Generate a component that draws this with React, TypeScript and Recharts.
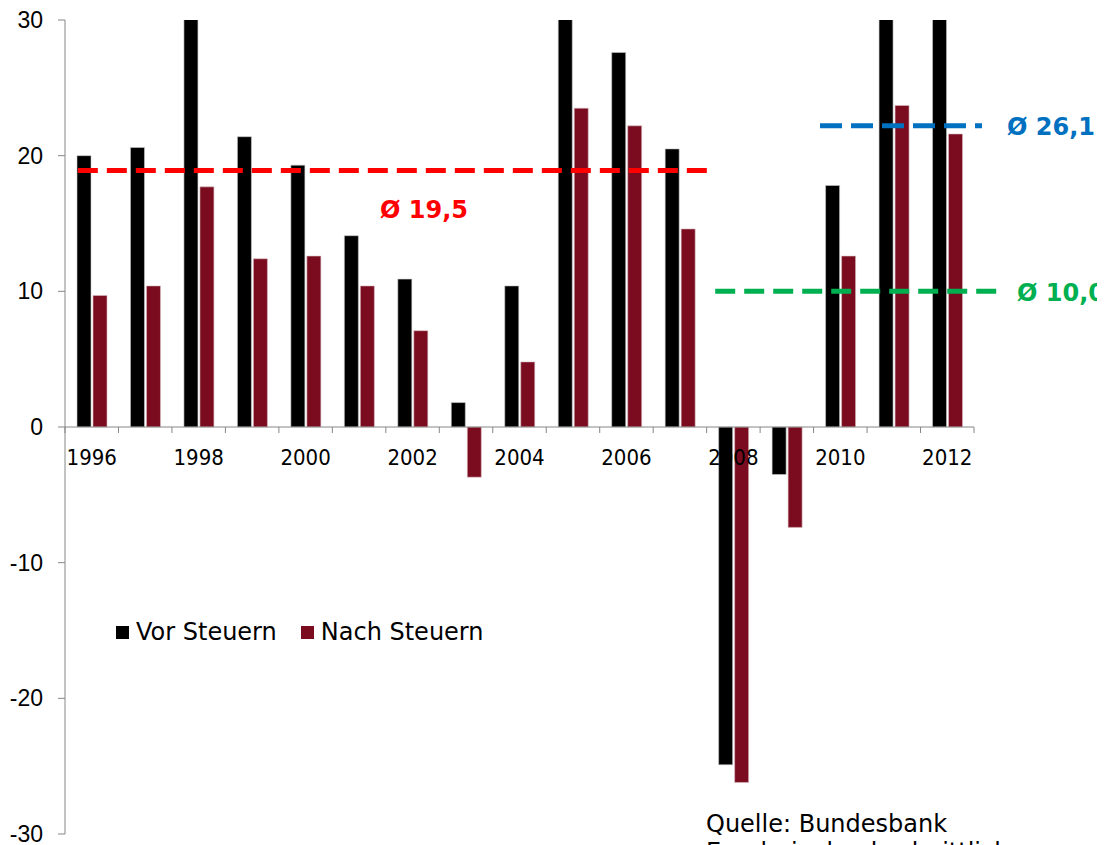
import React from 'react';
import { BarChart, Bar, XAxis, YAxis, ReferenceLine } from 'recharts';

// ---- data ----
const years = ['1996','1997','1998','1999','2000','2001','2002','2003','2004','2005','2006','2007','2008','2009','2010','2011','2012'];
const vorSteuern = [20.0, 20.6, 31.5, 21.4, 19.3, 14.1, 10.9, 1.8, 10.4, 32.0, 27.6, 20.5, -24.9, -3.5, 17.8, 33.0, 31.0];
const nachSteuern = [9.7, 10.4, 17.7, 12.4, 12.6, 10.4, 7.1, -3.7, 4.8, 23.5, 22.2, 14.6, -26.2, -7.4, 12.6, 23.7, 21.6];
const yTicks = [-30, -20, -10, 0, 10, 20, 30];
const seriesNames = ['Vor Steuern', 'Nach Steuern'];

// average lines: [start, end] in category positions (0..17), y value, label
const avgRed = { x: [0.24, 12.16], y: 18.9, label: 'Ø 19,5' };
const avgGreen = { x: [12.16, 17.43], y: 10.0, label: 'Ø 10,0' };
const avgBlue = { x: [14.12, 17.15], y: 22.2, label: 'Ø 26,1' };
const sourceLines = ['Quelle: Bundesbank', 'Ergebnis durchschnittlich'];

const data = years.map((y, i) => ({ year: y, vor: vorSteuern[i], nach: nachSteuern[i] }));

// ---- layout ----
const W = 1097;
const H = 837;
const M = { top: 12, right: 131, bottom: 0, left: 0 };
const YW = 57;
const XH = 11;
const Y_MIN = -30;
const Y_MAX = 30;
const PLOT_W = W - M.left - M.right - YW;
const PLOT_H = H - M.top - M.bottom - XH;
const ZERO_Y = M.top + (PLOT_H * (Y_MAX - 0)) / (Y_MAX - Y_MIN);
const BW = PLOT_W / years.length;

const AXIS = '#868686';
const BLACK = '#000000';
const DARKRED = '#7B0C1F';
const RED = '#FF0000';
const BLUE = '#0070C0';
const GREEN = '#00B050';
const SANS = '"DejaVu Sans", Verdana, sans-serif';
const FS = 24;

function XTick(props: any) {
  const { x, payload, index } = props;
  const left = x - BW / 2;
  return (
    <g>
      <line x1={left} x2={left} y1={ZERO_Y} y2={ZERO_Y + 6} stroke={AXIS} strokeWidth={1} />
      {index === years.length - 1 && (
        <line x1={x + BW / 2} x2={x + BW / 2} y1={ZERO_Y} y2={ZERO_Y + 6} stroke={AXIS} strokeWidth={1} />
      )}
      {index % 2 === 0 && (
        <text
          x={x}
          y={ZERO_Y + 38}
          textAnchor="middle"
          fill="#000"
          style={{ fontFamily: '"DejaVu Sans Condensed", "DejaVu Sans", sans-serif', fontSize: 22 }}
        >
          {payload.value}
        </text>
      )}
    </g>
  );
}

// partial horizontal dashed segment, drawn from fractions of the plot width
const partialLine = (range: number[], color: string, dash: string) => (p: any) => {
  const x1 = Number(p.x1);
  const x2 = Number(p.x2);
  const span = x2 - x1;
  const n = years.length;
  return (
    <line
      x1={x1 + (span * range[0]) / n}
      x2={x1 + (span * range[1]) / n}
      y1={p.y1}
      y2={p.y2}
      stroke={color}
      strokeWidth={5}
      strokeDasharray={dash}
    />
  );
};

const labelStyle = (color: string, left: number, top: number): React.CSSProperties => ({
  position: 'absolute',
  left,
  top,
  color,
  fontFamily: SANS,
  fontWeight: 'bold',
  fontSize: FS,
  lineHeight: '28px',
  whiteSpace: 'nowrap',
});

export default function App() {
  return (
    <div style={{ position: 'relative', width: W, height: H, fontFamily: SANS }}>
      <BarChart width={W} height={H} data={data} margin={M} barSize={14} barGap={2}>
        <XAxis
          dataKey="year"
          interval={0}
          axisLine={false}
          tickLine={false}
          height={XH}
          tick={(p: any) => <XTick {...p} />}
        />
        <YAxis
          width={YW}
          domain={[Y_MIN, Y_MAX]}
          ticks={yTicks}
          allowDataOverflow
          interval={0}
          axisLine={{ stroke: AXIS }}
          tickLine={{ stroke: AXIS }}
          tickSize={7}
          tickMargin={15}
          tick={{ fill: '#000', fontFamily: '"Liberation Sans", Arial, sans-serif', fontSize: 23 }}
        />
        <Bar dataKey="vor" name={seriesNames[0]} fill={BLACK} stroke="#c8c8c8" strokeWidth={0.6} isAnimationActive={false} />
        <Bar dataKey="nach" name={seriesNames[1]} fill={DARKRED} stroke="#d8c0c4" strokeWidth={0.6} isAnimationActive={false} />
        <ReferenceLine y={0} stroke={AXIS} strokeWidth={1} />
        <ReferenceLine y={avgRed.y} ifOverflow="visible" shape={partialLine(avgRed.x, RED, '20 9')} />
        <ReferenceLine y={avgGreen.y} ifOverflow="visible" shape={partialLine(avgGreen.x, GREEN, '20 9')} />
        <ReferenceLine y={avgBlue.y} ifOverflow="visible" shape={partialLine(avgBlue.x, BLUE, '22 9')} />
      </BarChart>

      <div style={labelStyle(RED, 372, 188)}>{avgRed.label}</div>
      <div style={labelStyle(BLUE, 999, 105)}>{avgBlue.label}</div>
      <div style={labelStyle(GREEN, 1009, 271)}>{avgGreen.label}</div>

      <div
        style={{
          position: 'absolute',
          left: 108,
          top: 610,
          display: 'flex',
          alignItems: 'center',
          fontFamily: SANS,
          fontSize: FS,
          lineHeight: '28px',
          color: '#000',
          whiteSpace: 'nowrap',
        }}
      >
        {seriesNames.map((n, i) => (
          <div key={n} style={{ display: 'flex', alignItems: 'center', marginRight: 24 }}>
            <span style={{ display: 'inline-block', width: 13, height: 13, background: i === 0 ? BLACK : DARKRED, marginRight: 7 }} />
            <span>{n}</span>
          </div>
        ))}
      </div>

      <div
        style={{
          position: 'absolute',
          left: 698,
          top: 802,
          fontFamily: SANS,
          fontSize: FS,
          lineHeight: '28px',
          color: '#000',
          whiteSpace: 'nowrap',
        }}
      >
        {sourceLines.map((l) => (
          <div key={l}>{l}</div>
        ))}
      </div>
    </div>
  );
}
